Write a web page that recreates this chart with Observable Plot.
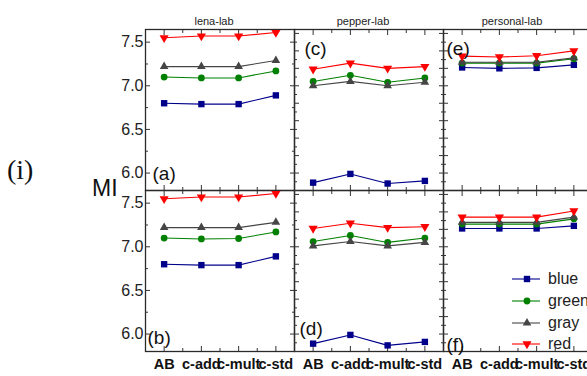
<!DOCTYPE html>
<html>
<head>
<meta charset="utf-8">
<script src="https://cdn.jsdelivr.net/npm/d3@7"></script>
<script src="https://cdn.jsdelivr.net/npm/@observablehq/plot@0.6"></script>
<style>
  html, body { margin: 0; padding: 0; background: #fff; overflow: hidden; }
  #wrap { position: relative; width: 587px; height: 376px; overflow: hidden; font-family: "Liberation Sans", Arial, sans-serif; }
  #wrap svg.main { position: absolute; left: 0; top: 0; }
  .ov { position: absolute; white-space: nowrap; color: #111; line-height: 1; }
  .leg { position: absolute; left: 511px; display: flex; align-items: center; font-size: 16px; color: #222; }
  .leg svg { margin-right: 7px; }
</style>
</head>
<body>
<div id="wrap"></div>
<script>
// ---- data ----
const methods = ["AB", "c-add", "c-mult", "c-std"];
const labs = ["lena-lab", "pepper-lab", "personal-lab"];
const rows = ["top", "bottom"];
const seriesNames = ["blue", "green", "gray", "red"];
const seriesColors = ["#00008b", "#008000", "#454545", "#ff0000"];

// panel (a) lena-lab, top row
const a_blue  = [6.80, 6.79, 6.79, 6.89];
const a_green = [7.10, 7.09, 7.09, 7.17];
const a_gray  = [7.22, 7.22, 7.22, 7.29];
const a_red   = [7.55, 7.57, 7.57, 7.61];
// panel (b) lena-lab, bottom row
const b_blue  = [6.80, 6.79, 6.79, 6.89];
const b_green = [7.10, 7.09, 7.095, 7.17];
const b_gray  = [7.22, 7.22, 7.22, 7.28];
const b_red   = [7.55, 7.57, 7.57, 7.61];
// panel (c) pepper-lab, top row
const c_blue  = [5.89, 5.99, 5.88, 5.91];
const c_green = [7.05, 7.12, 7.04, 7.09];
const c_gray  = [7.00, 7.05, 7.00, 7.04];
const c_red   = [7.19, 7.26, 7.20, 7.22];
// panel (d) pepper-lab, bottom row
const d_blue  = [5.89, 5.99, 5.87, 5.91];
const d_green = [7.06, 7.13, 7.05, 7.10];
const d_gray  = [7.01, 7.06, 7.01, 7.05];
const d_red   = [7.21, 7.27, 7.22, 7.23];
// panel (e) personal-lab, top row
const e_blue  = [7.21, 7.20, 7.205, 7.24];
const e_green = [7.26, 7.26, 7.26, 7.31];
const e_gray  = [7.27, 7.27, 7.27, 7.32];
const e_red   = [7.34, 7.33, 7.345, 7.40];
// panel (f) personal-lab, bottom row
const f_blue  = [7.21, 7.21, 7.21, 7.24];
const f_green = [7.26, 7.26, 7.26, 7.32];
const f_gray  = [7.28, 7.28, 7.28, 7.34];
const f_red   = [7.34, 7.34, 7.34, 7.41];

const yTickLabels = [6.0, 6.5, 7.0, 7.5];

// ---- build tidy table ----
const panels = [
  {lab: "lena-lab", row: "top", s: [a_blue, a_green, a_gray, a_red]},
  {lab: "lena-lab", row: "bottom", s: [b_blue, b_green, b_gray, b_red]},
  {lab: "pepper-lab", row: "top", s: [c_blue, c_green, c_gray, c_red]},
  {lab: "pepper-lab", row: "bottom", s: [d_blue, d_green, d_gray, d_red]},
  {lab: "personal-lab", row: "top", s: [e_blue, e_green, e_gray, e_red]},
  {lab: "personal-lab", row: "bottom", s: [f_blue, f_green, f_gray, f_red]}
];
const data = [];
for (const p of panels) {
  p.s.forEach((vals, si) => {
    vals.forEach((v, i) => data.push({lab: p.lab, row: p.row, series: seriesNames[si], i, v}));
  });
}

const triangleDown = {
  draw(ctx, size) {
    const y = Math.sqrt(size / (3 * Math.sqrt(3)));
    ctx.moveTo(0, 2 * y);
    ctx.lineTo(Math.sqrt(3) * y, -y);
    ctx.lineTo(-Math.sqrt(3) * y, -y);
    ctx.closePath();
  }
};
const seriesSymbols = ["square", "circle", "triangle", triangleDown];
const seriesR = [3.6, 3.4, 3.2, 3.4];

// y tick sets (inward ticks on each panel side)
const majorTicks = [], minorTicks = [];
for (const lab of labs) for (const row of rows) {
  if (lab === "lena-lab") {
    for (const v of [6.0, 6.5, 7.0, 7.5]) majorTicks.push({lab, row, v});
    for (const v of [6.25, 6.75, 7.25]) minorTicks.push({lab, row, v});
  } else {
    for (let k = 58; k <= 76; k++) {
      const v = k / 10;
      (k % 2 === 0 ? majorTicks : minorTicks).push({lab, row, v});
    }
  }
}

const marks = [Plot.frame({stroke: "#2a2a2a", strokeWidth: 1.3})];

// titles above columns
marks.push(Plot.axisFx({anchor: "top", tickSize: 0, tickPadding: 5, fontSize: 11, label: null, dx: -6, fill: "#222"}));
// x labels (bottom row)
marks.push(Plot.axisX({anchor: "bottom", ticks: [0, 1, 2, 3], tickFormat: (i) => methods[i], tickSize: 0, tickPadding: 7, fontSize: 14.5, fontWeight: "bold", label: null, fill: "#111"}));
// x inward ticks bottom & top
marks.push(Plot.axisX({anchor: "bottom", ticks: [0, 1, 2, 3], text: null, tickSize: 5, dy: -5, facetAnchor: null, label: null, stroke: "#333"}));
marks.push(Plot.axisX({anchor: "bottom", ticks: [0.5, 1.5, 2.5], text: null, tickSize: 3, dy: -3, facetAnchor: null, label: null, stroke: "#333"}));
marks.push(Plot.axisX({anchor: "top", ticks: [0, 1, 2, 3], text: null, tickSize: 5, dy: 5, facetAnchor: null, label: null, stroke: "#333"}));
marks.push(Plot.axisX({anchor: "top", ticks: [0.5, 1.5, 2.5], text: null, tickSize: 3, dy: 3, facetAnchor: null, label: null, stroke: "#333"}));
// y labels (first column)
marks.push(Plot.axisY({anchor: "left", ticks: yTickLabels, tickFormat: (d) => d.toFixed(1), tickSize: 0, tickPadding: 2, fontSize: 16, label: null, fill: "#222"}));
// y inward ticks
marks.push(Plot.axisY(majorTicks, {y: "v", fx: "lab", fy: "row", anchor: "left", text: null, tickSize: 5, dx: 5, facetAnchor: null, label: null, stroke: "#333"}));
marks.push(Plot.axisY(minorTicks, {y: "v", fx: "lab", fy: "row", anchor: "left", text: null, tickSize: 3, dx: 3, facetAnchor: null, label: null, stroke: "#333"}));
marks.push(Plot.axisY(majorTicks, {y: "v", fx: "lab", fy: "row", anchor: "right", text: null, tickSize: 5, dx: -5, facetAnchor: null, label: null, stroke: "#333"}));
marks.push(Plot.axisY(minorTicks, {y: "v", fx: "lab", fy: "row", anchor: "right", text: null, tickSize: 3, dx: -3, facetAnchor: null, label: null, stroke: "#333"}));

// series lines and markers
seriesNames.forEach((name, si) => {
  const sd = data.filter((d) => d.series === name);
  marks.push(Plot.line(sd, {x: "i", y: "v", fx: "lab", fy: "row", z: "lab", stroke: seriesColors[si], strokeWidth: 1.1}));
  marks.push(Plot.dot(sd, {x: "i", y: "v", fx: "lab", fy: "row", symbol: seriesSymbols[si], fill: seriesColors[si], r: seriesR[si], stroke: "none"}));
});

// panel letters
const letter = (lab, row, t, frameAnchor, dx, dy) =>
  Plot.text([{lab, row, t}], {fx: "lab", fy: "row", text: "t", frameAnchor, textAnchor: "start", lineAnchor: "middle", dx, dy, fontSize: 19, fill: "#111"});
marks.push(letter("lena-lab", "top", "(a)", "bottom-left", 7, -17));
marks.push(letter("lena-lab", "bottom", "(b)", "bottom-left", 2, -14));
marks.push(letter("pepper-lab", "top", "(c)", "top-left", 10, 19));
marks.push(letter("pepper-lab", "bottom", "(d)", "bottom-left", 5, -23));
marks.push(letter("personal-lab", "top", "(e)", "top-left", 3, 19));
marks.push(letter("personal-lab", "bottom", "(f)", "bottom-left", 3, -7));

const chart = Plot.plot({
  width: 592,
  height: 376,
  marginLeft: 145,
  marginRight: 0,
  marginTop: 29,
  marginBottom: 25,
  style: {maxWidth: "none", background: "transparent", fontFamily: "'Liberation Sans', Arial, sans-serif", overflow: "visible"},
  fx: {domain: labs, padding: 0, axis: null},
  fy: {domain: rows, padding: 0, axis: null},
  x: {domain: [-0.5, 3.5], axis: null},
  y: {domain: [5.8, 7.645], axis: null},
  marks
});
chart.classList.add("main");
const wrap = document.getElementById("wrap");
wrap.appendChild(chart);

// overlay texts
const addText = (txt, css) => {
  const el = document.createElement("div");
  el.className = "ov";
  el.textContent = txt;
  Object.assign(el.style, css);
  wrap.appendChild(el);
};
addText("(i)", {left: "7px", top: "156px", fontSize: "28px", fontFamily: "'Liberation Serif', 'DejaVu Serif', serif"});
addText("MI", {left: "92px", top: "177px", fontSize: "23px"});

// legend (in panel f)
const legTops = [270, 292, 314, 335];
seriesNames.forEach((name, si) => {
  const row = document.createElement("div");
  row.className = "leg";
  row.style.top = legTops[si] + "px";
  const svg = d3.create("svg").attr("width", 30).attr("height", 16);
  svg.append("line").attr("x1", 1).attr("x2", 29).attr("y1", 8).attr("y2", 8).attr("stroke", seriesColors[si]).attr("stroke-width", 1.1);
  const symType = [d3.symbolSquare, d3.symbolCircle, d3.symbolTriangle, triangleDown][si];
  svg.append("path").attr("transform", "translate(16,8)").attr("d", d3.symbol(symType, Math.PI * seriesR[si] * seriesR[si])()).attr("fill", seriesColors[si]);
  row.appendChild(svg.node());
  const t = document.createElement("span");
  t.textContent = name;
  row.appendChild(t);
  wrap.appendChild(row);
});
</script>
</body>
</html>
